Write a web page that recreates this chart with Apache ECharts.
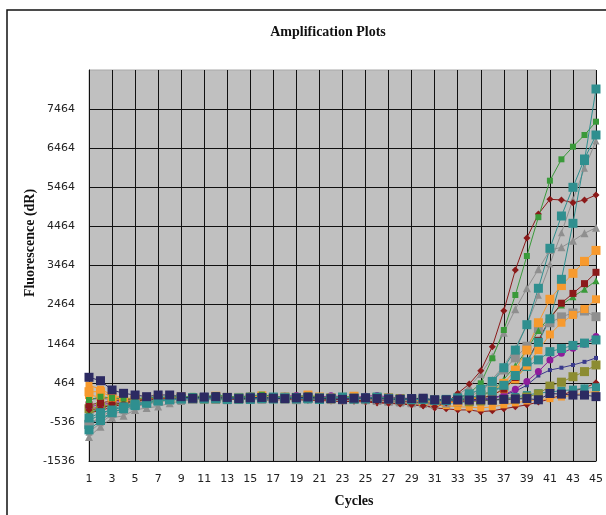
<!DOCTYPE html>
<html>
<head>
<meta charset="utf-8">
<script src="https://cdn.jsdelivr.net/npm/echarts@6/dist/echarts.min.js"></script>
<style>html,body{margin:0;padding:0;background:#fff}#c{width:606px;height:515px}</style>
</head>
<body>
<div id="c"></div>
<script>
const cycles = Array.from({length:45},(_,i)=>String(i+1));
const yTicks = [-1536,-536,464,1464,2464,3464,4464,5464,6464,7464];
const Y_MIN = -1536;

const tealA = [-436,-300,-232,-150,-80,-30,20,40,60,80, 50,70,90,60,40,80,100,70,50,90, 80,60,100,70,50,80,60,40,30,50, 20,10,40,80,150,250,400,650,1000,1500, 2100,3111,4543,6150,7978];
const tealB = [-740,-500,-300,-200,-120,-60,0,30,50,70, 90,60,40,80,100,60,50,80,90,60, 40,70,90,60,80,100,50,30,60,40, 20,40,80,180,300,500,850,1300,1950,2881, 3904,4730,5464,6188,6802];
const greenSq = [24,108,75,60,40,100,80,120,90,130, 110,150,120,100,130,160,120,90,110,140, 100,80,120,90,70,100,80,60,50,40, 20,30,60,195,451,1091,1814,2710,3707,4700, 5633,6180,6502,6802,7142];
const redDia = [-232,-188,-100,-50,0,40,50,60,80,60, 70,90,50,40,70,60,80,50,40,60, 50,30,40,20,0,-30,-60,-80,-100,-120, -150,-50,195,433,773,1387,2308,3349,4167,4781, 5157,5140,5070,5140,5267];
const grayTri = [-920,-660,-430,-380,-230,-180,-140,-60,0,30, 50,40,20,60,30,50,70,40,20,50, 60,40,30,50,20,0,-20,-40,-60,-80, -100,-60,150,364,689,1132,1745,2344,2881,3367, 3860,3929,4098,4288,4431];
const grayTri2 = [-800,-560,-350,-250,-150,-80,-30,20,40,50, 60,30,50,70,40,60,50,30,60,40, 50,70,40,30,60,40,20,10,0,-20, -40,0,60,150,300,550,900,1350,1950,2700, 3500,4300,5150,5950,6650];
const orangeSq = [236,236,100,60,50,80,60,70,100,60, 80,120,90,60,100,130,80,60,90,150, 100,70,90,120,60,80,50,30,20,0, -20,-50,-30,50,150,250,450,790,1300,2000, 2600,2950,3264,3570,3850];
const redSq = [-100,-50,0,30,50,60,70,80,60,90, 70,50,80,60,40,70,90,60,50,70, 80,50,40,60,30,20,10,0,-20,-40, -60,-40,-20,20,60,150,300,600,1000,1550, 2100,2500,2750,3000,3290];
const greenTri = [-300,-200,-100,-50,0,30,50,60,80,90, 100,70,60,90,110,80,70,100,90,60, 80,100,60,50,70,40,30,20,10,0, -20,0,30,60,120,250,550,900,1300,1800, 2150,2454,2666,2855,3075];
const orange2 = [150,100,50,20,30,50,60,60,80,50, 40,70,60,90,50,60,100,80,40,70, 60,40,80,50,30,60,40,20,0,-20, -40,-20,0,40,80,150,300,550,900,1300, 1700,2000,2200,2350,2600];
const graySq = [-600,-400,-250,-150,-80,-30,10,40,60,50, 80,60,40,70,90,50,60,80,40,60, 70,50,30,60,40,20,0,-10,-30,-40, -60,-20,40,120,240,490,790,1100,1400,1850, 2000,2150,2250,2300,2155];
const tealC = [-600,-450,-300,-180,-100,-40,0,30,50,40, 60,80,50,40,70,90,60,50,80,70, 50,60,80,40,60,70,30,20,10,0, -20,10,40,80,150,250,360,620,880,1050, 1260,1340,1420,1480,1560];
const purpleCirc = [-150,-100,-50,0,30,50,60,80,70,100, 120,90,80,110,130,100,90,120,140,110, 100,130,110,90,120,140,100,80,60,40, 20,0,-20,0,30,50,150,300,500,750, 1050,1220,1350,1450,1650];
const navyLine = [50,60,50,40,50,60,70,60,50,40, 60,50,40,70,60,50,40,60,70,50, 40,60,50,30,40,50,30,20,0,-20, -30,-20,0,30,50,80,150,250,400,650, 790,850,920,1000,1100];
const oliveSq = [-200,-150,-80,-30,10,40,50,60,70,80, 60,50,80,90,70,60,80,100,90,70, 60,80,70,50,60,90,80,60,40,30, 20,10,0,-20,0,20,50,50,100,180, 380,480,620,750,920];
const redLow = [-300,-250,-150,-80,-20,20,40,50,40,60, 50,30,40,60,50,30,20,40,30,20, 10,0,-20,-10,-30,-50,-60,-50,-100,-120, -180,-200,-230,-230,-275,-250,-200,-150,-100,-30, 50,150,250,331,466];
const orangeLow = [400,300,150,80,60,50,60,50,70,90, 70,60,100,80,50,70,90,60,40,60, 50,30,60,40,20,10,-10,-30,-50,-80, -100,-120,-150,-160,-180,-150,-100,-50,0,30, 60,100,150,200,250];
const tealLow = [-500,-350,-200,-120,-60,-20,10,30,40,60, 40,30,60,50,30,40,60,50,30,40, 50,30,20,40,30,10,0,-20,-30,-40, -50,-60,-40,-20,0,30,60,100,150,200, 230,260,290,320,350];
const navySq = [605,518,280,195,152,109,152,152,109,67, 100,110,90,60,80,90,70,60,80,100, 70,60,40,70,80,60,50,40,60,70, 30,30,24,24,30,20,40,50,60,30, 190,175,150,150,110];

const TEAL='#2F8F8F', GREEN='#3A9A3A', DRED='#8B1A1A', GRAY='#8F8F8F', ORANGE='#F79A2E', PURPLE='#8E1C9B', NAVY='#2C2A62', OLIVE='#8C8C32', NAVYL='#3A3A8C';

const seriesDefs = [
  [redLow, DRED, 'diamond', 7],
  [orangeLow, ORANGE, 'rect', 7],
  [tealLow, TEAL, 'rect', 8],
  [oliveSq, OLIVE, 'rect', 9],
  [navyLine, NAVYL, 'rect', 4],
  [purpleCirc, PURPLE, 'circle', 7],
  [tealC, TEAL, 'rect', 9],
  [graySq, GRAY, 'rect', 9],
  [orange2, ORANGE, 'rect', 8],
  [greenTri, GREEN, 'triangle', 7],
  [redSq, DRED, 'rect', 7],
  [orangeSq, ORANGE, 'rect', 9],
  [grayTri2, GRAY, 'triangle', 7],
  [grayTri, GRAY, 'triangle', 8],
  [redDia, DRED, 'diamond', 7],
  [greenSq, GREEN, 'rect', 6],
  [tealB, TEAL, 'rect', 9],
  [tealA, TEAL, 'rect', 9],
  [navySq, NAVY, 'rect', 9]
];

const chart = echarts.init(document.getElementById('c'), null, {renderer:'canvas'});
chart.setOption({
  animation:false,
  backgroundColor:'#fff',
  graphic:[
    {type:'rect', shape:{x:7,y:10,width:660,height:620}, style:{fill:'none', stroke:'#111', lineWidth:1.5}, z:-10},
    {type:'text', x:328, y:32, style:{text:'Amplification Plots', font:'bold 14px "Liberation Serif"', fill:'#111', textAlign:'center', textVerticalAlign:'middle'}},
    {type:'text', x:30, y:243, rotation:Math.PI/2, style:{text:'Fluorescence (dR)', font:'bold 14px "Liberation Serif"', fill:'#111', textAlign:'center', textVerticalAlign:'middle'}},
    {type:'text', x:354, y:501, style:{text:'Cycles', font:'bold 14px "Liberation Serif"', fill:'#111', textAlign:'center', textVerticalAlign:'middle'}}
  ],
  grid:{left:89, right:6, top:70, bottom:54, show:true, backgroundColor:'#C0C0C0', borderColor:'#A8A8A8', borderWidth:1},
  xAxis:{type:'category', data:cycles, boundaryGap:false,
    axisLine:{lineStyle:{color:'#111', width:1}},
    axisTick:{show:false},
    axisLabel:{interval:1, color:'#222', fontFamily:'DejaVu Sans', fontSize:11, margin:13},
    splitLine:{show:true, interval:1, lineStyle:{color:'#111', width:1}}},
  yAxis:{type:'value', min:0, max:10000, interval:1000,
    axisLine:{show:true, lineStyle:{color:'#111', width:1}},
    axisTick:{show:false},
    axisLabel:{color:'#222', fontFamily:'DejaVu Sans', fontSize:11, margin:14,
      formatter:v=>{const t=v+Y_MIN; return yTicks.indexOf(t)>=0 ? String(t) : '';}},
    splitLine:{show:true, showMaxLine:false, lineStyle:{color:'#111', width:1}}},
  series: seriesDefs.map(([arr,col,sym,sz])=>({
    type:'line', data:arr.map(v=>v-Y_MIN), symbol:sym, symbolSize:sz, showAllSymbol:true,
    lineStyle:{color:col, width:1}, itemStyle:{color:col}, emphasis:{disabled:true}
  }))
});
</script>
</body>
</html>
